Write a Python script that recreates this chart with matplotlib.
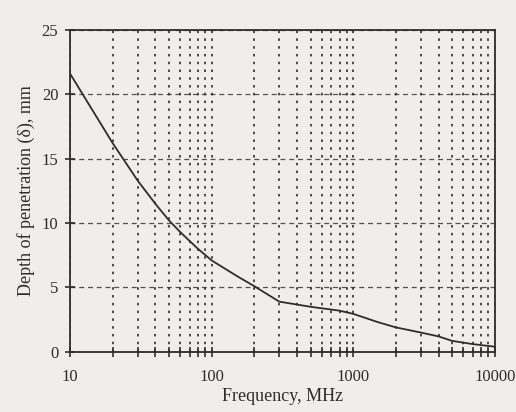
import matplotlib
matplotlib.use("Agg")
import matplotlib.pyplot as plt
from matplotlib.ticker import LogLocator, FixedLocator, NullFormatter

freq_mhz = [10, 20, 30, 40, 50, 60, 70, 80, 100, 150, 200, 300, 500, 800,
            1000, 1500, 2000, 3000, 4000, 5000, 7000, 10000]
depth_mm = [21.6, 16.2, 13.3, 11.5, 10.2, 9.3, 8.6, 8.0, 7.1, 5.9, 5.1, 3.9,
            3.5, 3.2, 2.95, 2.3, 1.9, 1.5, 1.2, 0.85, 0.6, 0.4]
x_ticks = [10, 100, 1000, 10000]
x_tick_labels = ["10", "100", "1000", "10000"]
y_ticks = [0, 5, 10, 15, 20, 25]

plt.rcParams['font.family'] = ['Liberation Serif', 'DejaVu Serif']
ink = '#2e2e2e'
bg = '#efeeea'

fig = plt.figure(figsize=(5.16, 4.12), dpi=100, facecolor=bg)
ax = fig.add_axes([0.136, 0.146, 0.823, 0.781], facecolor=bg)

ax.plot(freq_mhz, depth_mm, color=ink, lw=1.3, zorder=3)

ax.set_xscale('log')
ax.set_xlim(10, 10000)
ax.set_ylim(0, 25)

ax.xaxis.set_major_locator(FixedLocator(x_ticks))
ax.set_xticklabels(x_tick_labels)
ax.xaxis.set_minor_locator(LogLocator(base=10, subs=range(2, 10)))
ax.xaxis.set_minor_formatter(NullFormatter())
ax.set_yticks(y_ticks)

# vertical dotted grid at every decade subdivision
ax.grid(True, which='both', axis='x', color=ink, lw=1.4, linestyle=(0, (1.3, 2.7)), alpha=0.85)
# horizontal dashed grid
ax.grid(True, which='major', axis='y', color=ink, lw=0.9, linestyle=(0, (4, 3)), alpha=0.8)

for s in ax.spines.values():
    s.set_color(ink)
    s.set_linewidth(1.3)

ax.tick_params(axis='both', which='both', direction='inout', color=ink, labelcolor=ink,
               labelsize=12)
ax.tick_params(axis='x', which='major', length=7, width=1.2, pad=9)
ax.tick_params(axis='x', which='minor', length=7, width=1.2)
ax.tick_params(axis='y', which='major', length=7, width=1.2, pad=5)

ax.set_xlabel('Frequency, MHz', fontsize=13, color=ink, labelpad=2)
ax.set_ylabel('Depth of penetration (δ), mm', fontsize=13, color=ink, labelpad=5)

fig.savefig('out.png', dpi=100, facecolor=bg)
